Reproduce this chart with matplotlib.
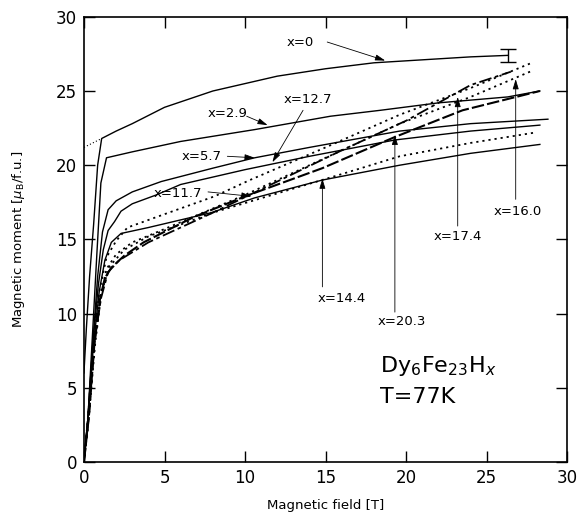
import matplotlib
matplotlib.use("Agg")
import matplotlib.pyplot as plt

# ---------------------------------------------------------------------------
# Data (field in T, moment in muB/f.u.)
# ---------------------------------------------------------------------------

h_x0 = [0, 0.15, 0.35, 0.6, 0.85, 1.1, 2, 3, 5, 8, 12, 15, 18, 21, 24, 26.3]
m_x0 = [6.0, 9, 12.5, 16, 20, 21.8, 22.3, 22.8, 23.9, 25.0, 26.0, 26.5, 26.9, 27.1, 27.3, 27.4]
h_x0_ext = [0, 1.1]
m_x0_ext = [21.2, 21.8]

h_x29 = [0, 0.25, 0.5, 0.8, 1.05, 1.4, 3, 6, 10.6, 15.3, 18.4, 22, 26.3, 28.3]
m_x29 = [0, 3, 8, 14, 18.8, 20.5, 20.9, 21.6, 22.4, 23.3, 23.7, 24.2, 24.6, 25.0]

h_x57 = [0, 0.25, 0.55, 0.85, 1.15, 1.5, 2.0, 3, 4.8, 8, 10.6, 14, 19.6, 24, 28.8]
m_x57 = [0, 3, 8, 12.5, 15.5, 17.0, 17.6, 18.2, 18.9, 19.8, 20.5, 21.2, 22.3, 22.8, 23.1]

h_x117 = [0, 0.25, 0.6, 0.95, 1.3, 1.7, 2.3, 4, 7.9, 10.6, 14.8, 19.6, 24, 28.3]
m_x117 = [0, 3, 8, 11.5, 13.6, 14.8, 15.4, 15.8, 16.8, 17.8, 19.0, 20.0, 20.8, 21.4]

h_x127 = [0, 0.25, 0.6, 0.95, 1.4, 2.0, 2.7, 5, 8.1, 10.3, 15, 19.6, 24, 27.8]
m_x127 = [0, 3, 8, 11.5, 13.8, 14.9, 15.8, 16.7, 17.9, 19.0, 21.2, 23.4, 25.2, 26.9]

h_x144 = [0, 0.3, 0.65, 1.0, 1.3, 1.7, 2.5, 3.7, 6.8, 10, 14.8, 19.3, 23.5, 28.3]
m_x144 = [0, 3, 8, 11, 12.4, 13.1, 13.9, 14.8, 16.5, 17.9, 19.8, 21.9, 23.7, 25.0]

h_x160 = [0, 0.3, 0.65, 1.0, 1.4, 2.0, 3, 5, 10, 15, 19.6, 24, 27.9]
m_x160 = [0, 3, 8, 11, 13, 14.0, 14.8, 15.7, 18.0, 20.5, 22.8, 24.6, 26.4]

h_x174 = [0, 0.3, 0.65, 1.05, 1.5, 2.2, 4, 8, 12, 16, 20, 24, 26.5]
m_x174 = [0, 3, 8, 11, 12.8, 13.6, 14.8, 16.8, 18.9, 21.0, 23.0, 25.4, 26.3]

h_x203 = [0, 0.25, 0.55, 0.9, 1.2, 1.5, 1.9, 2.3, 3, 4.5, 6, 10, 14, 19.3, 24, 28.3]
m_x203 = [0, 3, 8, 12, 14.3, 15.6, 16.2, 16.9, 17.4, 18.0, 18.7, 19.7, 20.6, 21.7, 22.3, 22.7]

h_calc = [0, 0.3, 0.7, 1.1, 1.6, 2.5, 4, 8, 12, 16, 19.6, 24, 28]
m_calc = [0, 3, 8, 11.5, 13.2, 14.3, 15.2, 16.8, 18.1, 19.4, 20.6, 21.5, 22.2]

# error bar on the x=0 curve
err_h, err_m, err_d = 26.3, 27.4, 0.45

# labels: text, text position, arrow start, arrow tip
labels = ["x=0", "x=2.9", "x=12.7", "x=5.7", "x=11.7",
          "x=14.4", "x=20.3", "x=17.4", "x=16.0"]
label_xy = [(13.4, 28.25), (8.9, 23.5), (13.9, 24.4), (7.3, 20.6), (5.8, 18.1),
            (16.0, 11.05), (19.75, 9.45), (23.2, 15.2), (26.9, 16.9)]
arrow_from = [(15.1, 28.3), (10.1, 23.3), (13.6, 23.7), (8.9, 20.6), (7.7, 18.2),
              (14.8, 11.8), (19.3, 10.1), (23.2, 15.9), (26.8, 17.7)]
arrow_to = [(18.7, 27.05), (11.4, 22.7), (11.7, 20.2), (10.6, 20.5), (10.4, 17.9),
            (14.8, 19.1), (19.3, 22.05), (23.2, 24.6), (26.8, 25.8)]

# ---------------------------------------------------------------------------
# Plot
# ---------------------------------------------------------------------------

plt.rcParams['font.family'] = ['DejaVu Sans']

fig = plt.figure(figsize=(5.83, 5.25), dpi=100)
ax = fig.add_axes([0.144, 0.12, 0.829, 0.848])

solid = dict(color='k', lw=1.0)
dotted = dict(color='k', lw=1.3, ls=(0, (1.2, 2.2)))

ax.plot(h_x0, m_x0, **solid)
ax.plot(h_x0_ext, m_x0_ext, color='k', lw=0.8, ls=(0, (1, 2)))
ax.plot(h_x29, m_x29, **solid)
ax.plot(h_x57, m_x57, **solid)
ax.plot(h_x203, m_x203, **solid)
ax.plot(h_x117, m_x117, **solid)
ax.plot(h_x127, m_x127, **dotted)
ax.plot(h_x160, m_x160, **dotted)
ax.plot(h_calc, m_calc, **dotted)
ax.plot(h_x144, m_x144, color='k', lw=1.5, ls=(0, (6, 1.5)))
ax.plot(h_x174, m_x174, color='k', lw=1.3, ls=(0, (7, 2, 2, 2)))

ax.errorbar([err_h], [err_m], yerr=[err_d], color='k', lw=1.0,
            capsize=6, capthick=1.0)

arrow = dict(arrowstyle='-|>,head_length=0.6,head_width=0.18', color='k',
             lw=0.6, shrinkA=0, shrinkB=0)
for txt, xy, a0, a1 in zip(labels, label_xy, arrow_from, arrow_to):
    ax.text(xy[0], xy[1], txt, fontsize=9.5, ha='center', va='center')
    ax.annotate('', xy=a1, xytext=a0, arrowprops=arrow)

ax.text(18.4, 6.5, r'Dy$_6$Fe$_{23}$H$_x$', fontsize=16, ha='left', va='center')
ax.text(18.4, 4.4, 'T=77K', fontsize=16, ha='left', va='center')

ax.set_xlim(0, 30)
ax.set_ylim(0, 30)
ax.set_xticks(range(0, 31, 5))
ax.set_yticks(range(0, 31, 5))
ax.tick_params(direction='in', top=True, right=True, length=8, width=1.0,
               labelsize=12, pad=5)
for sp in ax.spines.values():
    sp.set_linewidth(1.2)

ax.set_xlabel('Magnetic field [T]', fontsize=9.5, labelpad=9)
ax.set_ylabel(r'Magnetic moment [$\mu_{\rm B}$/f.u.]', fontsize=9.5, labelpad=21)

fig.savefig('out.png', dpi=100)
